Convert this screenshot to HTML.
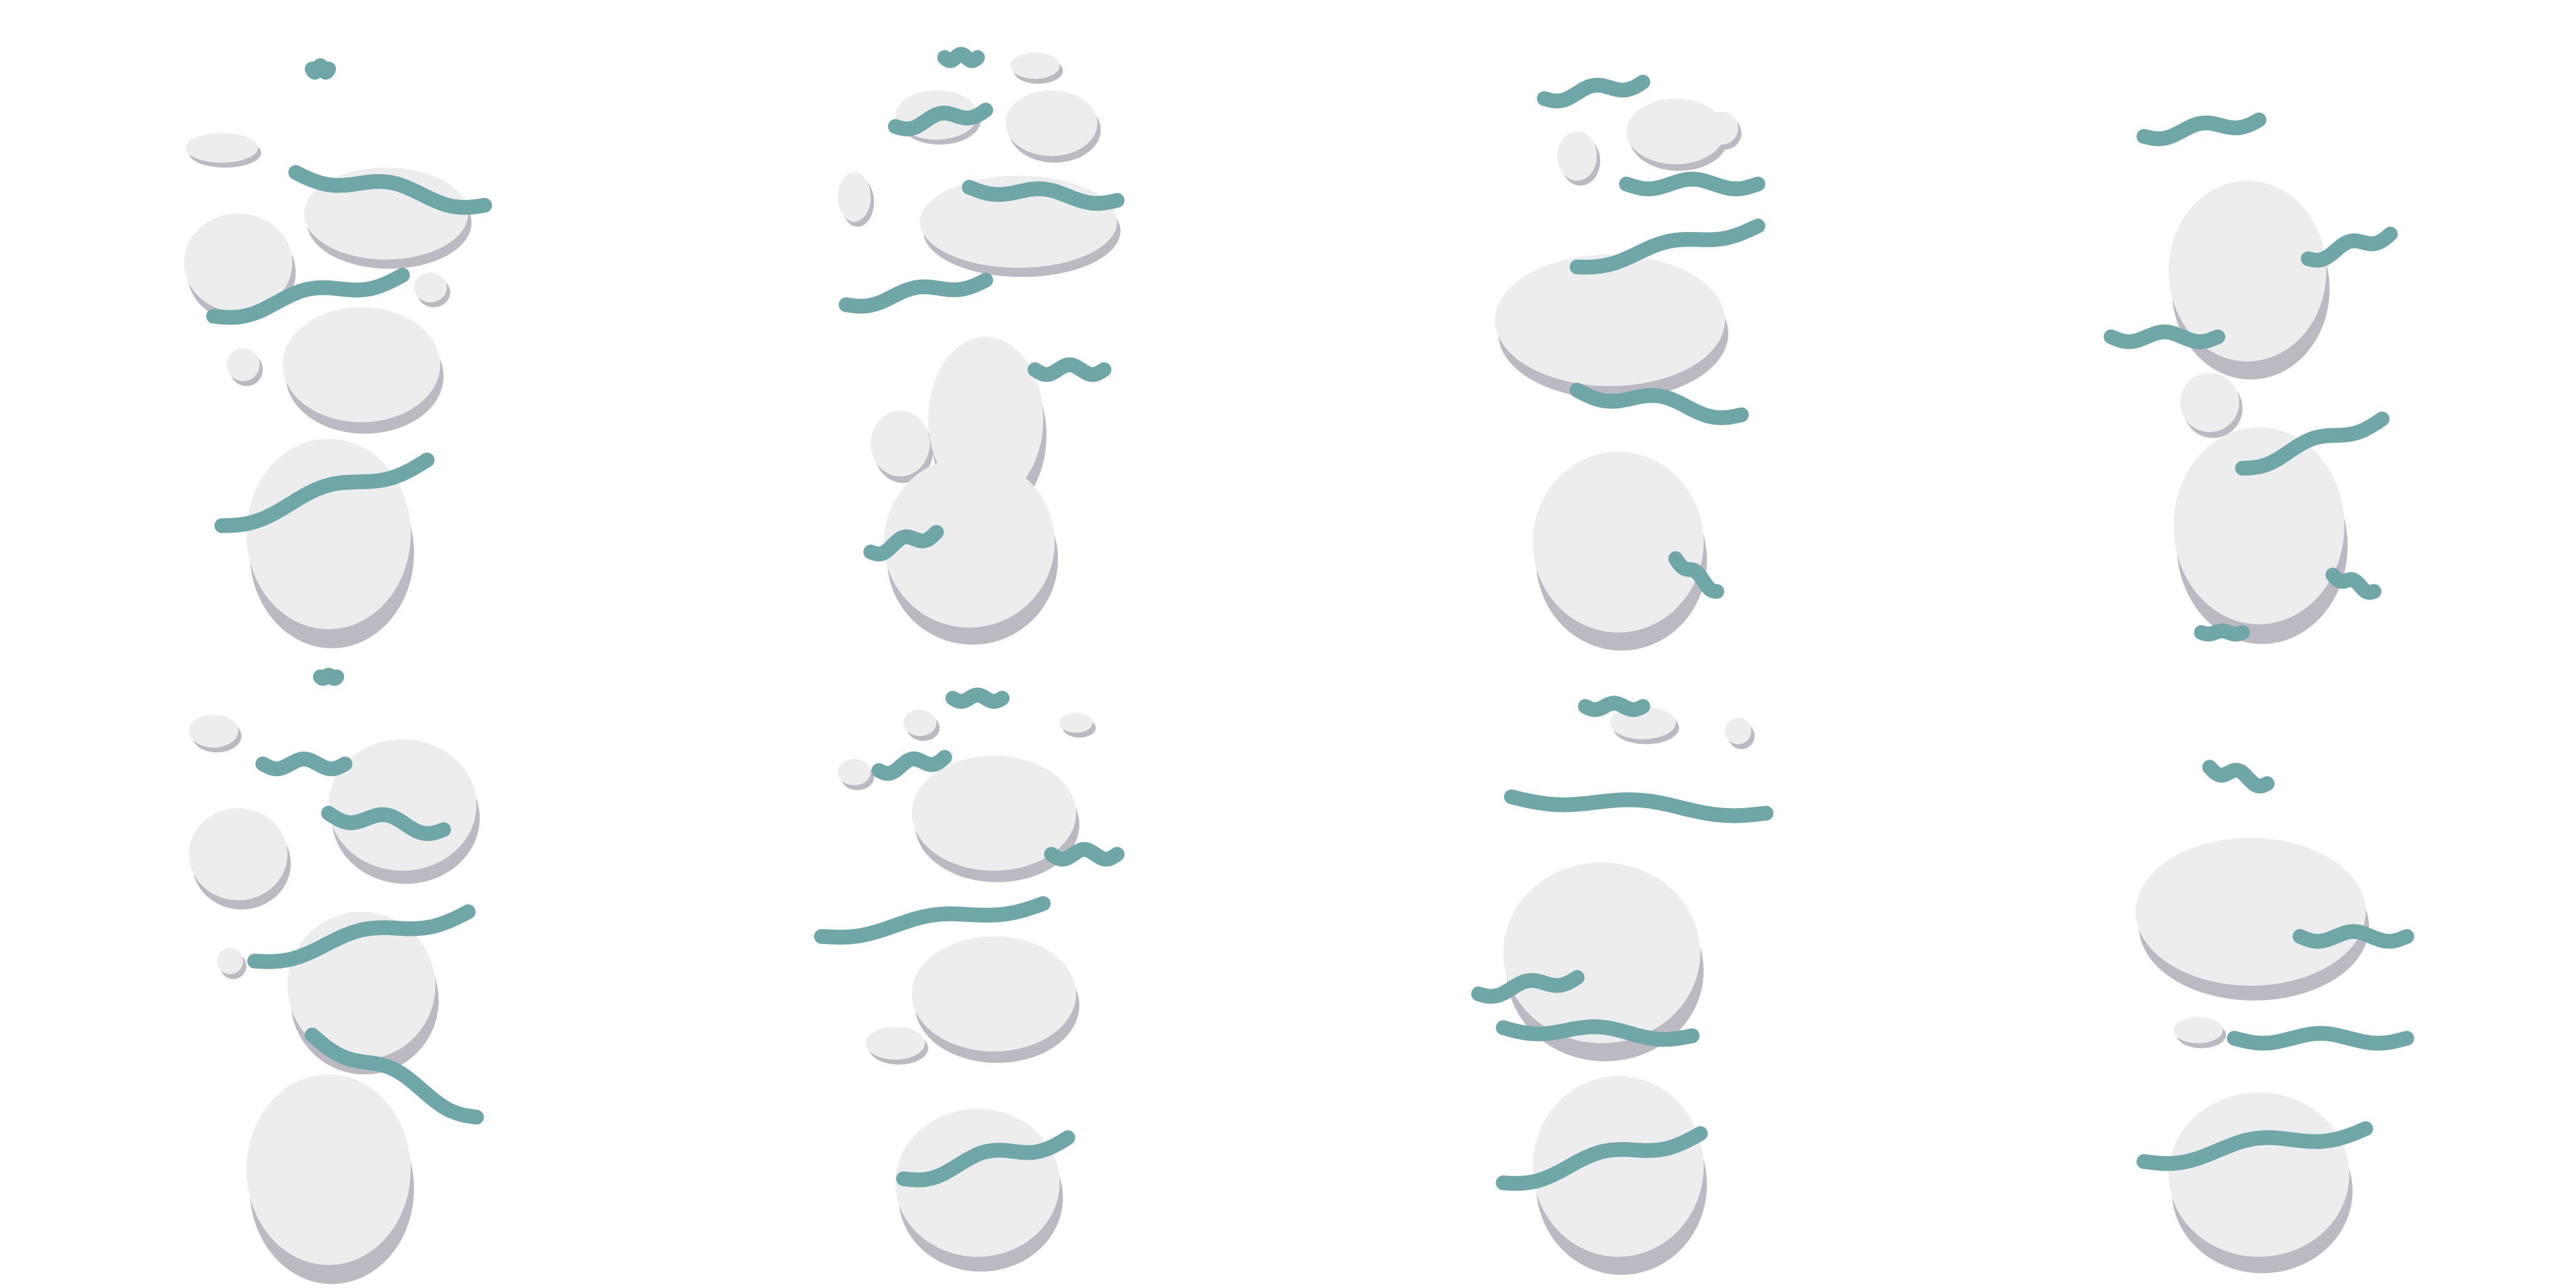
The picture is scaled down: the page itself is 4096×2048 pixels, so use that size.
<!DOCTYPE html>
<html><head><meta charset="utf-8">
<style>
html,body{margin:0;padding:0;background:#fff;}
svg{display:block;}
</style></head>
<body>
<svg id="art" xmlns="http://www.w3.org/2000/svg" width="4096" height="2048" viewBox="0 0 1568 784">
<rect x="0" y="0" width="1568" height="784" fill="#ffffff"/>
<g id="shadows"></g>
<g id="blobs"></g>
<g id="streaks"></g>
</svg>
<script>
// blobs: [cx, cy, rx, ry]
const blobData = [
 [200,325,50,58],[220,222,48,35],[235,130,50,28],[145,160,33,30],[135,90,22,9],[148,222,10,10],[262,175,10,9],
 [590,330,52,52],[600,255,35,50],[548,270,18,20],[620,135,60,28],[640,75,28,20],[570,70,25,15],[520,120,10,15],[630,40,15,8],
 [985,330,52,55],[980,195,70,40],[1020,80,30,20],[960,95,12,15],[1048,78,10,10],
 [1375,320,52,60],[1345,245,18,18],[1368,165,48,55],
 [200,712,50,58],[220,600,45,45],[245,490,45,40],[145,520,30,28],[140,585,8,8],[130,445,15,10],
 [595,720,50,45],[605,605,50,35],[605,495,50,35],[545,635,18,10],[560,440,10,8],[655,440,10,6],[520,470,10,8],
 [985,710,52,55],[975,580,60,55],[1000,440,20,10],[1058,445,8,8],
 [1375,715,55,50],[1370,555,70,45],[1338,627,15,8]
];
// streaks: [x1, x2, y, amplitude, slope]
const streakData = [
 [135,260,300,4,-40],[130,245,180,4,-25],[180,295,115,4,20],[190,200,42,2,0],
 [515,600,178,3,-15],[630,672,225,3,0],[530,570,330,3,-12],[590,680,118,3,8],[545,600,72,3,-10],[575,595,35,2,0],
 [960,1070,150,3,-25],[960,1060,245,4,15],[940,1000,55,3,-10],[990,1070,112,3,0],[1020,1045,350,2,20],
 [1285,1350,205,3,0],[1405,1455,150,3,-15],[1365,1450,270,3,-30],[1305,1375,78,3,-10],[1420,1445,355,2,10],[1340,1365,385,1,0],
 [155,285,570,4,-30],[190,290,655,4,50],[160,210,465,3,0],[200,270,500,4,10],[195,205,412,1,0],
 [500,635,560,3,-20],[535,575,465,3,-8],[640,680,520,3,0],[550,650,705,4,-25],[580,610,425,2,0],
 [920,1075,490,3,10],[900,960,600,3,-10],[915,1030,628,3,5],[915,1035,705,4,-30],[965,1000,430,2,0],
 [1345,1380,472,3,10],[1400,1465,570,3,0],[1360,1465,632,3,0],[1305,1440,697,4,-20]
];
const NS='http://www.w3.org/2000/svg';
const sh=document.getElementById('shadows'), bl=document.getElementById('blobs'), st=document.getElementById('streaks');
blobData.forEach(function(b){
  const s=document.createElementNS(NS,'ellipse');
  s.setAttribute('cx',b[0]+2);s.setAttribute('cy',b[1]+Math.max(3,b[3]*0.2));
  s.setAttribute('rx',b[2]);s.setAttribute('ry',b[3]);s.setAttribute('fill','#bdb9c3');
  
  
  sh.appendChild(s);
  const e=document.createElementNS(NS,'ellipse');
  e.setAttribute('cx',b[0]);e.setAttribute('cy',b[1]);
  e.setAttribute('rx',b[2]);e.setAttribute('ry',b[3]);e.setAttribute('fill','#ededed');
  
  
  bl.appendChild(e);
});
streakData.forEach(function(d){
  let p='';
  const n=24;
  for(let i=0;i<=n;i++){
    const t=i/n, x=d[0]+(d[1]-d[0])*t;
    const y=d[2]+d[4]*(t-0.5)+d[3]*Math.sin(t*Math.PI*3);
    p+=(i?'L':'M')+x.toFixed(1)+' '+y.toFixed(1);
  }
  const path=document.createElementNS(NS,'path');
  path.setAttribute('d',p);path.setAttribute('fill','none');
  path.setAttribute('stroke','#6fa7a8');path.setAttribute('stroke-width','9');
  path.setAttribute('stroke-linecap','round');path.setAttribute('stroke-linejoin','round');
  
  
  st.appendChild(path);
});
</script>
</body></html>
